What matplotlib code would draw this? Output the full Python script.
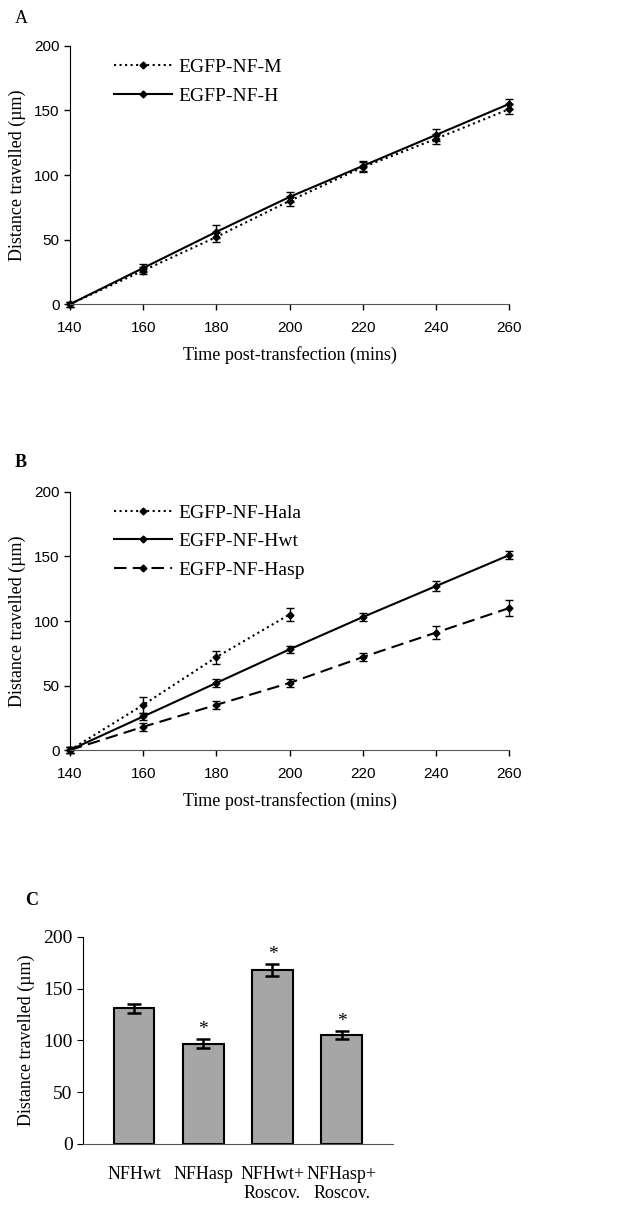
import numpy as np
import matplotlib
matplotlib.use("Agg")
import matplotlib.pyplot as plt

# panel A
time_a = [140, 160, 180, 200, 220, 240, 260]
nfm = [0, 26, 52, 80, 106, 128, 151]
nfm_err = [2, 3, 4, 4, 4, 4, 4]
nfh = [0, 28, 56, 83, 107, 131, 155]
nfh_err = [2, 3, 5, 4, 4, 5, 4]

# panel B
time_hala = [140, 160, 180, 200]
hala = [0, 35, 72, 105]
hala_err = [2, 6, 5, 5]
time_b = [140, 160, 180, 200, 220, 240, 260]
hwt = [0, 26, 52, 78, 103, 127, 151]
hwt_err = [2, 3, 3, 3, 3, 4, 3]
hasp = [0, 18, 35, 52, 72, 91, 110]
hasp_err = [2, 3, 3, 3, 3, 5, 6]

# panel C
groups = ["NFHwt", "NFHasp", "NFHwt+\nRoscov.", "NFHasp+\nRoscov."]
dist = [131, 97, 168, 105]
dist_err = [4, 4, 6, 4]
signif = [False, True, True, True]

SERIF = "Liberation Serif"
SANS = "Liberation Sans"

fig = plt.figure(figsize=(6.17, 12.07), dpi=100)


def line_panel(ax):
    ax.set_xlim(140, 260)
    ax.set_ylim(0, 200)
    ax.set_xticks(range(140, 261, 20))
    ax.set_yticks(range(0, 201, 50))
    ax.spines["top"].set_visible(False)
    ax.spines["right"].set_visible(False)
    ax.spines["bottom"].set_color("#555555")
    ax.tick_params(axis="both", direction="out", length=4, width=1, labelsize=11)
    ax.tick_params(axis="x", pad=8)
    for lab in ax.get_xticklabels() + ax.get_yticklabels():
        lab.set_family(SANS)
    ax.set_ylabel("Distance travelled (µm)", family=SERIF, fontsize=13, labelpad=6)
    ax.set_xlabel("Time post-transfection (mins)", family=SERIF, fontsize=13, labelpad=8)


def draw(ax, x, y, e, ls, label):
    ax.errorbar(x, y, yerr=e, fmt="none", ecolor="black", capsize=3,
                elinewidth=1, capthick=1, clip_on=False)
    ax.plot(x, y, color="black", ls=ls, lw=1.5, marker="D", ms=3.5,
            label=label, clip_on=False)


def legend(ax, spacing):
    ax.legend(loc="upper left", bbox_to_anchor=(0.06, 1.02), frameon=False,
              handlelength=3.0, handletextpad=0.3, labelspacing=spacing,
              prop={"family": SERIF, "size": 14})


axA = fig.add_axes([0.1135, 0.748, 0.7115, 0.214])
draw(axA, time_a, nfm, nfm_err, ":", "EGFP-NF-M")
draw(axA, time_a, nfh, nfh_err, "-", "EGFP-NF-H")
line_panel(axA)
legend(axA, 0.6)
fig.text(0.024, 0.985, "A", family=SERIF, fontsize=13, va="center")

axB = fig.add_axes([0.1135, 0.3786, 0.7115, 0.2138])
draw(axB, time_hala, hala, hala_err, ":", "EGFP-NF-Hala")
draw(axB, time_b, hwt, hwt_err, "-", "EGFP-NF-Hwt")
draw(axB, time_b, hasp, hasp_err, (0, (6, 3)), "EGFP-NF-Hasp")
line_panel(axB)
legend(axB, 0.55)
fig.text(0.024, 0.617, "B", family=SERIF, fontsize=13, fontweight="bold", va="center")

axC = fig.add_axes([0.1345, 0.0522, 0.5024, 0.1715])
xpos = np.arange(len(groups))
axC.bar(xpos, dist, width=0.59, color="#a6a6a6", edgecolor="black", linewidth=1.5)
axC.errorbar(xpos, dist, yerr=dist_err, fmt="none", ecolor="black", elinewidth=1.8,
             capsize=5, capthick=1.8)
for xi, v, e, s in zip(xpos, dist, dist_err, signif):
    if s:
        axC.text(xi, v + e + 1, "*", ha="center", va="bottom", family=SERIF, fontsize=14)
axC.set_xlim(-0.736, 3.74)
axC.set_ylim(0, 200)
axC.set_yticks(range(0, 201, 50))
axC.set_xticks(xpos)
axC.set_xticklabels(groups, family=SERIF, fontsize=13, linespacing=1.1)
axC.tick_params(axis="x", length=0, pad=16)
axC.tick_params(axis="y", direction="out", length=4, labelsize=14)
for lab in axC.get_yticklabels():
    lab.set_family(SERIF)
axC.spines["top"].set_visible(False)
axC.spines["right"].set_visible(False)
axC.spines["bottom"].set_color("#555555")
axC.spines["bottom"].set_linewidth(0.8)
axC.set_ylabel("Distance travelled (µm)", family=SERIF, fontsize=13, labelpad=6)
fig.text(0.04, 0.254, "C", family=SERIF, fontsize=13, fontweight="bold", va="center")

fig.savefig("out.png", dpi=100)
